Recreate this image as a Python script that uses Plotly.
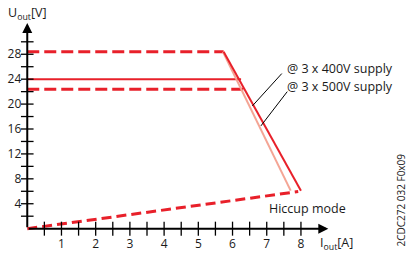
import plotly.graph_objects as go

# ---- data ----
upper_dash_x = [0, 5.74]
upper_dash_y = [28.4, 28.4]
nominal_x = [0, 6.25]
nominal_y = [24, 24]
lower_dash_x = [0, 6.36]
lower_dash_y = [22.4, 22.4]
red_diag_x = [5.74, 8.0]      # @ 3 x 400V supply
red_diag_y = [28.4, 6.1]
pink_diag_x = [5.72, 7.7]     # @ 3 x 500V supply
pink_diag_y = [28.4, 6.1]
hiccup_x = [0, 7.92]
hiccup_y = [0, 5.95]

x_tick_vals = [1, 2, 3, 4, 5, 6, 7, 8]
x_tick_text = ["1", "2", "3", "4", "5", "6", "7", "8"]
y_tick_vals = [4, 8, 12, 16, 20, 24, 28]
y_tick_text = ["4", "8", "12", "16", "20", "24", "28"]
x_minor = [0.5 * i for i in range(1, 17)]
y_minor = [2 * i for i in range(1, 16)]

RED = "#E8202A"
PINK = "#F4A595"
FONT = "Open Sans"
TXT = "#1a1a1a"

# ---- geometry ----
W, H = 407, 256
sx, sy = 34.25, 6.25
x0px, y0px = 27, 229
xr = [-0.3, 9.2]
yr = [-1.5, 33.5]
ml = x0px + xr[0] * sx
pw = (xr[1] - xr[0]) * sx
mr = W - ml - pw
mb = (H - y0px) + yr[0] * sy
ph = (yr[1] - yr[0]) * sy
mt = H - mb - ph


def px(xp):
    return (xp - ml) / pw


def py(yp):
    return (H - mb - yp) / ph


fig = go.Figure()

dash = "12px,5px"
fig.add_trace(go.Scatter(x=upper_dash_x, y=upper_dash_y, mode="lines",
                         line=dict(color=RED, width=3, dash=dash)))
fig.add_trace(go.Scatter(x=lower_dash_x, y=lower_dash_y, mode="lines",
                         line=dict(color=RED, width=3, dash=dash)))
fig.add_trace(go.Scatter(x=nominal_x, y=nominal_y, mode="lines",
                         line=dict(color=RED, width=2)))
fig.add_trace(go.Scatter(x=pink_diag_x, y=pink_diag_y, mode="lines",
                         line=dict(color=PINK, width=2)))
fig.add_trace(go.Scatter(x=red_diag_x, y=red_diag_y, mode="lines",
                         line=dict(color=RED, width=2)))
fig.add_trace(go.Scatter(x=hiccup_x, y=hiccup_y, mode="lines",
                         line=dict(color=RED, width=3, dash="10px,5px")))

# axis lines with arrows
fig.add_annotation(x=8.8, y=0, ax=0, ay=0, xref="x", yref="y", axref="x", ayref="y",
                   showarrow=True, arrowhead=2, arrowsize=1, arrowwidth=2,
                   arrowcolor="black", text="")
fig.add_annotation(x=0, y=33.0, ax=0, ay=0, xref="x", yref="y", axref="x", ayref="y",
                   showarrow=True, arrowhead=2, arrowsize=1, arrowwidth=2,
                   arrowcolor="black", text="")

# crossing tick marks
fig.add_trace(go.Scatter(x=x_minor, y=[0] * len(x_minor), mode="markers",
                         marker=dict(symbol="line-ns-open", size=10, color="black",
                                     line=dict(color="black", width=1.3)),
                         cliponaxis=False))
fig.add_trace(go.Scatter(x=[0] * len(y_minor), y=y_minor, mode="markers",
                         marker=dict(symbol="line-ew-open", size=9, color="black",
                                     line=dict(color="black", width=1.3)),
                         cliponaxis=False))

# leader lines
fig.add_shape(type="line", x0=7.44, y0=24.9, x1=6.58, y1=19.7, xref="x", yref="y",
              line=dict(color="black", width=1))
fig.add_shape(type="line", x0=7.6, y0=22.0, x1=6.83, y1=16.5, xref="x", yref="y",
              line=dict(color="black", width=1))

tf = dict(family=FONT, size=12.5, color=TXT)
fig.add_annotation(x=px(285), y=py(68), xref="paper", yref="paper", text="@ 3 x 400V supply",
                   showarrow=False, xanchor="left", yanchor="middle", font=tf)
fig.add_annotation(x=px(285), y=py(86), xref="paper", yref="paper", text="@ 3 x 500V supply",
                   showarrow=False, xanchor="left", yanchor="middle", font=tf)
fig.add_annotation(x=px(267), y=py(209), xref="paper", yref="paper", text="Hiccup mode",
                   showarrow=False, xanchor="left", yanchor="middle", font=tf)

# axis titles
fig.add_annotation(x=px(6), y=py(13), xref="paper", yref="paper", text="U<sub>out</sub>[V]",
                   showarrow=False, xanchor="left", yanchor="middle", font=tf)
fig.add_annotation(x=px(318), y=py(244), xref="paper", yref="paper", text="I<sub>out</sub>[A]",
                   showarrow=False, xanchor="left", yanchor="middle", font=tf)

fig.add_annotation(x=px(401), y=py(200), xref="paper", yref="paper", text="2CDC272 032 F0x09",
                   showarrow=False, textangle=-90, xanchor="center", yanchor="middle",
                   borderpad=0,
                   font=dict(family=FONT, size=10, color=TXT))

fig.update_layout(
    width=W, height=H,
    margin=dict(l=ml, r=mr, t=mt, b=mb, pad=0, autoexpand=False),
    paper_bgcolor="white", plot_bgcolor="white",
    showlegend=False,
    xaxis=dict(range=xr, showgrid=False, zeroline=False, showline=False,
               tickvals=x_tick_vals, ticktext=x_tick_text, ticks="",
               anchor="free", position=(0 - yr[0]) / (yr[1] - yr[0]),
               ticklabelstandoff=6, automargin=False, fixedrange=True,
               tickfont=dict(family=FONT, size=12, color=TXT)),
    yaxis=dict(range=yr, showgrid=False, zeroline=False, showline=False,
               tickvals=y_tick_vals, ticktext=y_tick_text, ticks="",
               anchor="free", position=(0 - xr[0]) / (xr[1] - xr[0]),
               ticklabelstandoff=6, automargin=False, fixedrange=True,
               tickfont=dict(family=FONT, size=12, color=TXT)),
)

fig.write_html("out.html", config={"displayModeBar": False, "staticPlot": True},
               post_script="document.body.style.margin='0';document.body.style.overflow='hidden';")
